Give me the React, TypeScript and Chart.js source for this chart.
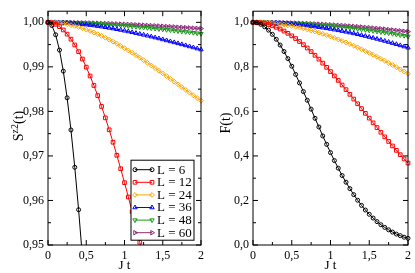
import React, { useEffect, useRef } from 'react';
import { Chart, registerables } from 'chart.js';
import { drawPoint } from 'chart.js/helpers';

Chart.register(...registerables);

// ---------- data ----------
const times = [0, 0.05, 0.1, 0.15, 0.2, 0.25, 0.3, 0.35, 0.4, 0.45, 0.5, 0.55, 0.6, 0.65, 0.7, 0.75, 0.8, 0.85, 0.9, 0.95, 1.0,
  1.05, 1.1, 1.15, 1.2, 1.25, 1.3, 1.35, 1.4, 1.45, 1.5, 1.55, 1.6, 1.65, 1.7, 1.75, 1.8, 1.85, 1.9, 1.95, 2.0];

const sizes = [6, 12, 24, 36, 48, 60];

// left panel: S^{z2}(t)
const sL6 = [1, 0.99929, 0.99721, 0.99377, 0.98904, 0.98305, 0.97584, 0.96745, 0.95792, 0.9473, 0.93563];
const sL12 = [1, 0.99989, 0.99956, 0.99903, 0.99829, 0.99735, 0.99622, 0.99491, 0.99342, 0.99176, 0.98994, 0.98795, 0.98582,
  0.98353, 0.98111, 0.97855, 0.97587, 0.97307, 0.97015, 0.96713, 0.964, 0.96078, 0.95747, 0.95408, 0.95061, 0.94707, 0.94347];
const sL24 = [1, 0.99998, 0.99993, 0.99984, 0.99972, 0.99957, 0.99939, 0.99918, 0.99894, 0.99867, 0.99838, 0.99806, 0.99771,
  0.99734, 0.99695, 0.99654, 0.99611, 0.99566, 0.99519, 0.9947, 0.9942, 0.99368, 0.99315, 0.99261, 0.99205, 0.99148, 0.99091,
  0.99032, 0.98973, 0.98913, 0.98853, 0.98792, 0.9873, 0.98669, 0.98607, 0.98545, 0.98484, 0.98422, 0.98361, 0.983, 0.9824];
const sL36 = [1, 0.99999, 0.99998, 0.99995, 0.99991, 0.99987, 0.99981, 0.99974, 0.99966, 0.99958, 0.99948, 0.99938, 0.99927,
  0.99915, 0.99902, 0.99889, 0.99874, 0.9986, 0.99844, 0.99828, 0.99811, 0.99794, 0.99776, 0.99757, 0.99738, 0.99719, 0.99699,
  0.99679, 0.99658, 0.99637, 0.99615, 0.99593, 0.99571, 0.99549, 0.99527, 0.99504, 0.99481, 0.99458, 0.99435, 0.99411, 0.99388];
const sL48 = [1, 1, 0.99999, 0.99998, 0.99997, 0.99995, 0.99992, 0.9999, 0.99986, 0.99983, 0.99979, 0.99975, 0.9997, 0.99966,
  0.9996, 0.99955, 0.99949, 0.99943, 0.99937, 0.9993, 0.99923, 0.99916, 0.99909, 0.99901, 0.99893, 0.99885, 0.99877, 0.99869,
  0.9986, 0.99851, 0.99842, 0.99833, 0.99824, 0.99815, 0.99805, 0.99796, 0.99786, 0.99776, 0.99766, 0.99756, 0.99746];
const sL60 = [1, 1, 1, 0.99999, 0.99998, 0.99997, 0.99996, 0.99994, 0.99992, 0.99991, 0.99988, 0.99986, 0.99984, 0.99981,
  0.99978, 0.99975, 0.99972, 0.99968, 0.99965, 0.99961, 0.99958, 0.99954, 0.9995, 0.99945, 0.99941, 0.99937, 0.99932, 0.99927,
  0.99923, 0.99918, 0.99913, 0.99908, 0.99903, 0.99898, 0.99892, 0.99887, 0.99882, 0.99876, 0.99871, 0.99865, 0.9986];

// right panel: F(t)
const fL6 = [1, 0.998, 0.991, 0.98, 0.965, 0.946, 0.924, 0.898, 0.869, 0.837, 0.803, 0.766, 0.728, 0.689, 0.65, 0.61, 0.569,
  0.53, 0.49, 0.452, 0.415, 0.379, 0.345, 0.312, 0.282, 0.253, 0.226, 0.201, 0.178, 0.157, 0.138, 0.121, 0.105, 0.091, 0.079,
  0.068, 0.058, 0.049, 0.042, 0.035, 0.03];
const fL12 = [1, 0.9994, 0.9975, 0.9944, 0.99, 0.9845, 0.9778, 0.9698, 0.9608, 0.9506, 0.9394, 0.9272, 0.9139, 0.8998, 0.8847,
  0.8688, 0.8521, 0.8347, 0.8167, 0.798, 0.7788, 0.7591, 0.739, 0.7185, 0.6977, 0.6767, 0.6554, 0.6341, 0.6126, 0.5912, 0.5698,
  0.5485, 0.5273, 0.5063, 0.4856, 0.465, 0.4449, 0.425, 0.4056, 0.3865, 0.3679];
const fL24 = [1, 0.9998, 0.9993, 0.9985, 0.9974, 0.9959, 0.9941, 0.992, 0.9895, 0.9868, 0.9837, 0.9803, 0.9766, 0.9726, 0.9683,
  0.9637, 0.9588, 0.9536, 0.9482, 0.9424, 0.9364, 0.9301, 0.9236, 0.9168, 0.9097, 0.9024, 0.8949, 0.8871, 0.8792, 0.871, 0.8626,
  0.854, 0.8452, 0.8362, 0.8271, 0.8177, 0.8083, 0.7986, 0.7888, 0.779, 0.7689];
const fL36 = [1, 0.9999, 0.9997, 0.9993, 0.9988, 0.9981, 0.9973, 0.9963, 0.9952, 0.9939, 0.9925, 0.9909, 0.9892, 0.9873, 0.9853,
  0.9831, 0.9808, 0.9783, 0.9758, 0.973, 0.9702, 0.9671, 0.964, 0.9607, 0.9573, 0.9538, 0.9501, 0.9463, 0.9423, 0.9383, 0.9341,
  0.9298, 0.9254, 0.9208, 0.9162, 0.9114, 0.9065, 0.9015, 0.8964, 0.8912, 0.8859];
const fL48 = [1, 1, 0.9998, 0.9996, 0.9993, 0.999, 0.9985, 0.998, 0.9974, 0.9967, 0.9959, 0.9951, 0.9941, 0.9931, 0.992, 0.9909,
  0.9896, 0.9883, 0.9869, 0.9854, 0.9838, 0.9822, 0.9805, 0.9787, 0.9768, 0.9749, 0.9728, 0.9707, 0.9686, 0.9663, 0.964, 0.9616,
  0.9591, 0.9566, 0.954, 0.9513, 0.9486, 0.9457, 0.9429, 0.9399, 0.9369];
const fL60 = [1, 1, 0.9999, 0.9998, 0.9996, 0.9993, 0.999, 0.9987, 0.9983, 0.9978, 0.9973, 0.9968, 0.9962, 0.9955, 0.9948, 0.994,
  0.9932, 0.9923, 0.9914, 0.9904, 0.9894, 0.9883, 0.9871, 0.9859, 0.9847, 0.9834, 0.9821, 0.9807, 0.9792, 0.9778, 0.9762, 0.9746,
  0.973, 0.9713, 0.9696, 0.9678, 0.9659, 0.964, 0.9621, 0.9601, 0.9581];

// ticks
const xTicks = [0, 0.25, 0.5, 0.75, 1, 1.25, 1.5, 1.75, 2];
const xMajor = [0, 0.5, 1, 1.5, 2];
const sTicks = [0.95, 0.955, 0.96, 0.965, 0.97, 0.975, 0.98, 0.985, 0.99, 0.995, 1.0];
const sMajor = [0.95, 0.96, 0.97, 0.98, 0.99, 1.0];
const fTicks = [0, 0.1, 0.2, 0.3, 0.4, 0.5, 0.6, 0.7, 0.8, 0.9, 1.0];
const fMajor = [0, 0.2, 0.4, 0.6, 0.8, 1.0];

// ---------- styles ----------
const colors = ['#000000', '#ff0000', '#ffa500', '#0000ff', '#1a9a1a', '#8b2a7a'];
const pStyles = ['circle', 'rect', 'rectRot', 'triangle', 'triangle', 'triangle'];
const pRot = [0, 0, 0, 0, 180, 90];
const pRad = [2, 2.6, 2.4, 2.5, 2.5, 2.5];
const FONT = "'Liberation Serif', 'Times New Roman', serif";

const isIn = (arr: number[], v: number) => arr.some((m) => Math.abs(m - v) < 1e-9);
const fmt = (v: number, dec: number) => (Number.isInteger(v) && dec === 0 ? String(v) : v.toFixed(dec)).replace('.', ',');

function makeDatasets(series: number[][]) {
  return series.map((vals, i) => ({
    label: `L = ${sizes[i]}`,
    data: vals.map((v, j) => ({ x: times[j], y: v })),
    borderColor: colors[i],
    backgroundColor: 'rgba(0,0,0,0)',
    borderWidth: 1,
    pointStyle: pStyles[i],
    rotation: pRot[i],
    pointRadius: pRad[i],
    pointBorderWidth: 1,
    pointBorderColor: colors[i],
    pointBackgroundColor: 'rgba(0,0,0,0)',
    tension: 0,
    clip: { left: 6, right: 6, top: 6, bottom: 0 },
  }));
}

const framePlugin = {
  id: 'frameTicks',
  afterDraw(chart: any) {
    const { ctx, chartArea: a, scales } = chart;
    const o = chart.options.plugins.frameTicks;
    ctx.save();
    ctx.strokeStyle = '#000';
    ctx.lineWidth = 1;
    ctx.strokeRect(a.left, a.top, a.right - a.left, a.bottom - a.top);
    ctx.beginPath();
    for (const v of o.xTicks) {
      const px = scales.x.getPixelForValue(v);
      const len = isIn(o.xMajor, v) ? 5 : 3;
      ctx.moveTo(px, a.bottom); ctx.lineTo(px, a.bottom - len);
      ctx.moveTo(px, a.top); ctx.lineTo(px, a.top + len);
    }
    for (const v of o.yTicks) {
      const py = scales.y.getPixelForValue(v);
      const len = isIn(o.yMajor, v) ? 5 : 3;
      ctx.moveTo(a.left, py); ctx.lineTo(a.left + len, py);
      ctx.moveTo(a.right, py); ctx.lineTo(a.right - len, py);
    }
    ctx.stroke();
    // y title (rotated, with optional superscript)
    const t = o.yTitle;
    ctx.translate(t.x, t.y);
    ctx.rotate(-Math.PI / 2);
    ctx.fillStyle = '#000';
    ctx.textBaseline = 'alphabetic';
    let total = 0;
    const widths = t.parts.map((p: any) => {
      ctx.font = `${p.size}px ${FONT}`;
      const w = ctx.measureText(p.text).width;
      total += w;
      return w;
    });
    let cx = -total / 2;
    t.parts.forEach((p: any, i: number) => {
      ctx.font = `${p.size}px ${FONT}`;
      ctx.fillText(p.text, cx, -(p.rise || 0));
      cx += widths[i];
    });
    ctx.restore();
  },
};

const legendPlugin = {
  id: 'boxLegend',
  afterDraw(chart: any) {
    const o = chart.options.plugins.boxLegend;
    if (!o || !o.show) return;
    const { ctx, chartArea: a } = chart;
    const x0 = a.left + o.dx;
    const y0 = a.top + o.dy;
    ctx.save();
    ctx.fillStyle = '#fff';
    ctx.fillRect(x0, y0, o.w, o.h);
    ctx.strokeStyle = '#000';
    ctx.lineWidth = 1;
    ctx.strokeRect(x0, y0, o.w, o.h);
    chart.data.datasets.forEach((ds: any, i: number) => {
      const y = y0 + 9.5 + i * 12.6;
      const xa = x0 + 4;
      const xb = x0 + 21;
      ctx.strokeStyle = ds.borderColor;
      ctx.lineWidth = 1;
      ctx.beginPath();
      ctx.moveTo(xa, y);
      ctx.lineTo(xb, y);
      ctx.stroke();
      ctx.fillStyle = 'rgba(0,0,0,0)';
      const po = { pointStyle: ds.pointStyle, rotation: ds.rotation, radius: ds.pointRadius, borderWidth: 1 };
      drawPoint(ctx, po, xa, y);
      drawPoint(ctx, po, xb, y);
      ctx.fillStyle = '#000';
      ctx.font = `13px ${FONT}`;
      ctx.textBaseline = 'middle';
      ctx.textAlign = 'left';
      ctx.fillText(ds.label, x0 + 26, y + 0.5);
    });
    ctx.restore();
  },
};

function makeConfig(panel: 'S' | 'F') {
  const isS = panel === 'S';
  const series = isS ? [sL6, sL12, sL24, sL36, sL48, sL60] : [fL6, fL12, fL24, fL36, fL48, fL60];
  const yTicks = isS ? sTicks : fTicks;
  const yMajor = isS ? sMajor : fMajor;
  const yDec = isS ? 2 : 1;
  return {
    type: 'line',
    data: { datasets: makeDatasets(series) },
    plugins: [framePlugin, legendPlugin],
    options: {
      responsive: false,
      animation: false,
      events: [],
      layout: { padding: { left: 0, right: isS ? 3 : 4, top: 1, bottom: 0 } },
      plugins: {
        legend: { display: false },
        tooltip: { enabled: false },
        frameTicks: {
          xTicks, xMajor, yTicks, yMajor,
          yTitle: isS
            ? { x: 23, y: 126, parts: [{ text: 'S', size: 14 }, { text: 'z2', size: 10, rise: 5 }, { text: '(t)', size: 14 }] }
            : { x: 22, y: 123, parts: [{ text: 'F(t)', size: 14 }] },
        },
        boxLegend: { show: isS, dx: 83, dy: 149, w: 63, h: 80 },
      },
      scales: {
        x: {
          type: 'linear',
          min: 0,
          max: 2,
          afterBuildTicks: (scale: any) => { scale.ticks = xTicks.map((v) => ({ value: v })); },
          afterFit: (scale: any) => { scale.height = 28; },
          grid: { display: false, drawTicks: false },
          border: { display: false },
          ticks: {
            autoSkip: false,
            maxRotation: 0,
            padding: 4,
            color: '#000',
            font: { family: FONT, size: 12 },
            callback: (v: number) => (isIn(xMajor, v) ? fmt(v, Number.isInteger(v) ? 0 : 1) : ''),
          },
          title: { display: true, text: 'J t', color: '#000', font: { family: FONT, size: 13 }, padding: { top: 0, bottom: 0 } },
        },
        y: {
          type: 'linear',
          min: isS ? 0.95 : 0,
          max: isS ? 1.0025 : 1.05,
          afterBuildTicks: (scale: any) => { scale.ticks = yTicks.map((v) => ({ value: v })); },
          afterFit: (scale: any) => { scale.width = isS ? 48 : 45; },
          grid: { display: false, drawTicks: false },
          border: { display: false },
          ticks: {
            autoSkip: false,
            padding: 4,
            color: '#000',
            font: { family: FONT, size: 12 },
            callback: (v: number) => (isIn(yMajor, v) ? fmt(v, yDec) : ''),
          },
        },
      },
    },
  } as any;
}

function Panel({ panel, left, width }: { panel: 'S' | 'F'; left: number; width: number }) {
  const ref = useRef<HTMLCanvasElement | null>(null);
  useEffect(() => {
    if (!ref.current) return;
    const chart = new Chart(ref.current, makeConfig(panel));
    return () => chart.destroy();
  }, [panel]);
  return (
    <canvas
      ref={ref}
      width={width}
      height={273}
      style={{ position: 'absolute', left, top: 0, width, height: 273 }}
    />
  );
}

export default function App() {
  return (
    <div style={{ position: 'fixed', left: 0, top: 0, width: 415, height: 273, background: '#fff', overflow: 'hidden' }}>
      <Panel panel="S" left={0} width={208} />
      <Panel panel="F" left={208} width={207} />
    </div>
  );
}
